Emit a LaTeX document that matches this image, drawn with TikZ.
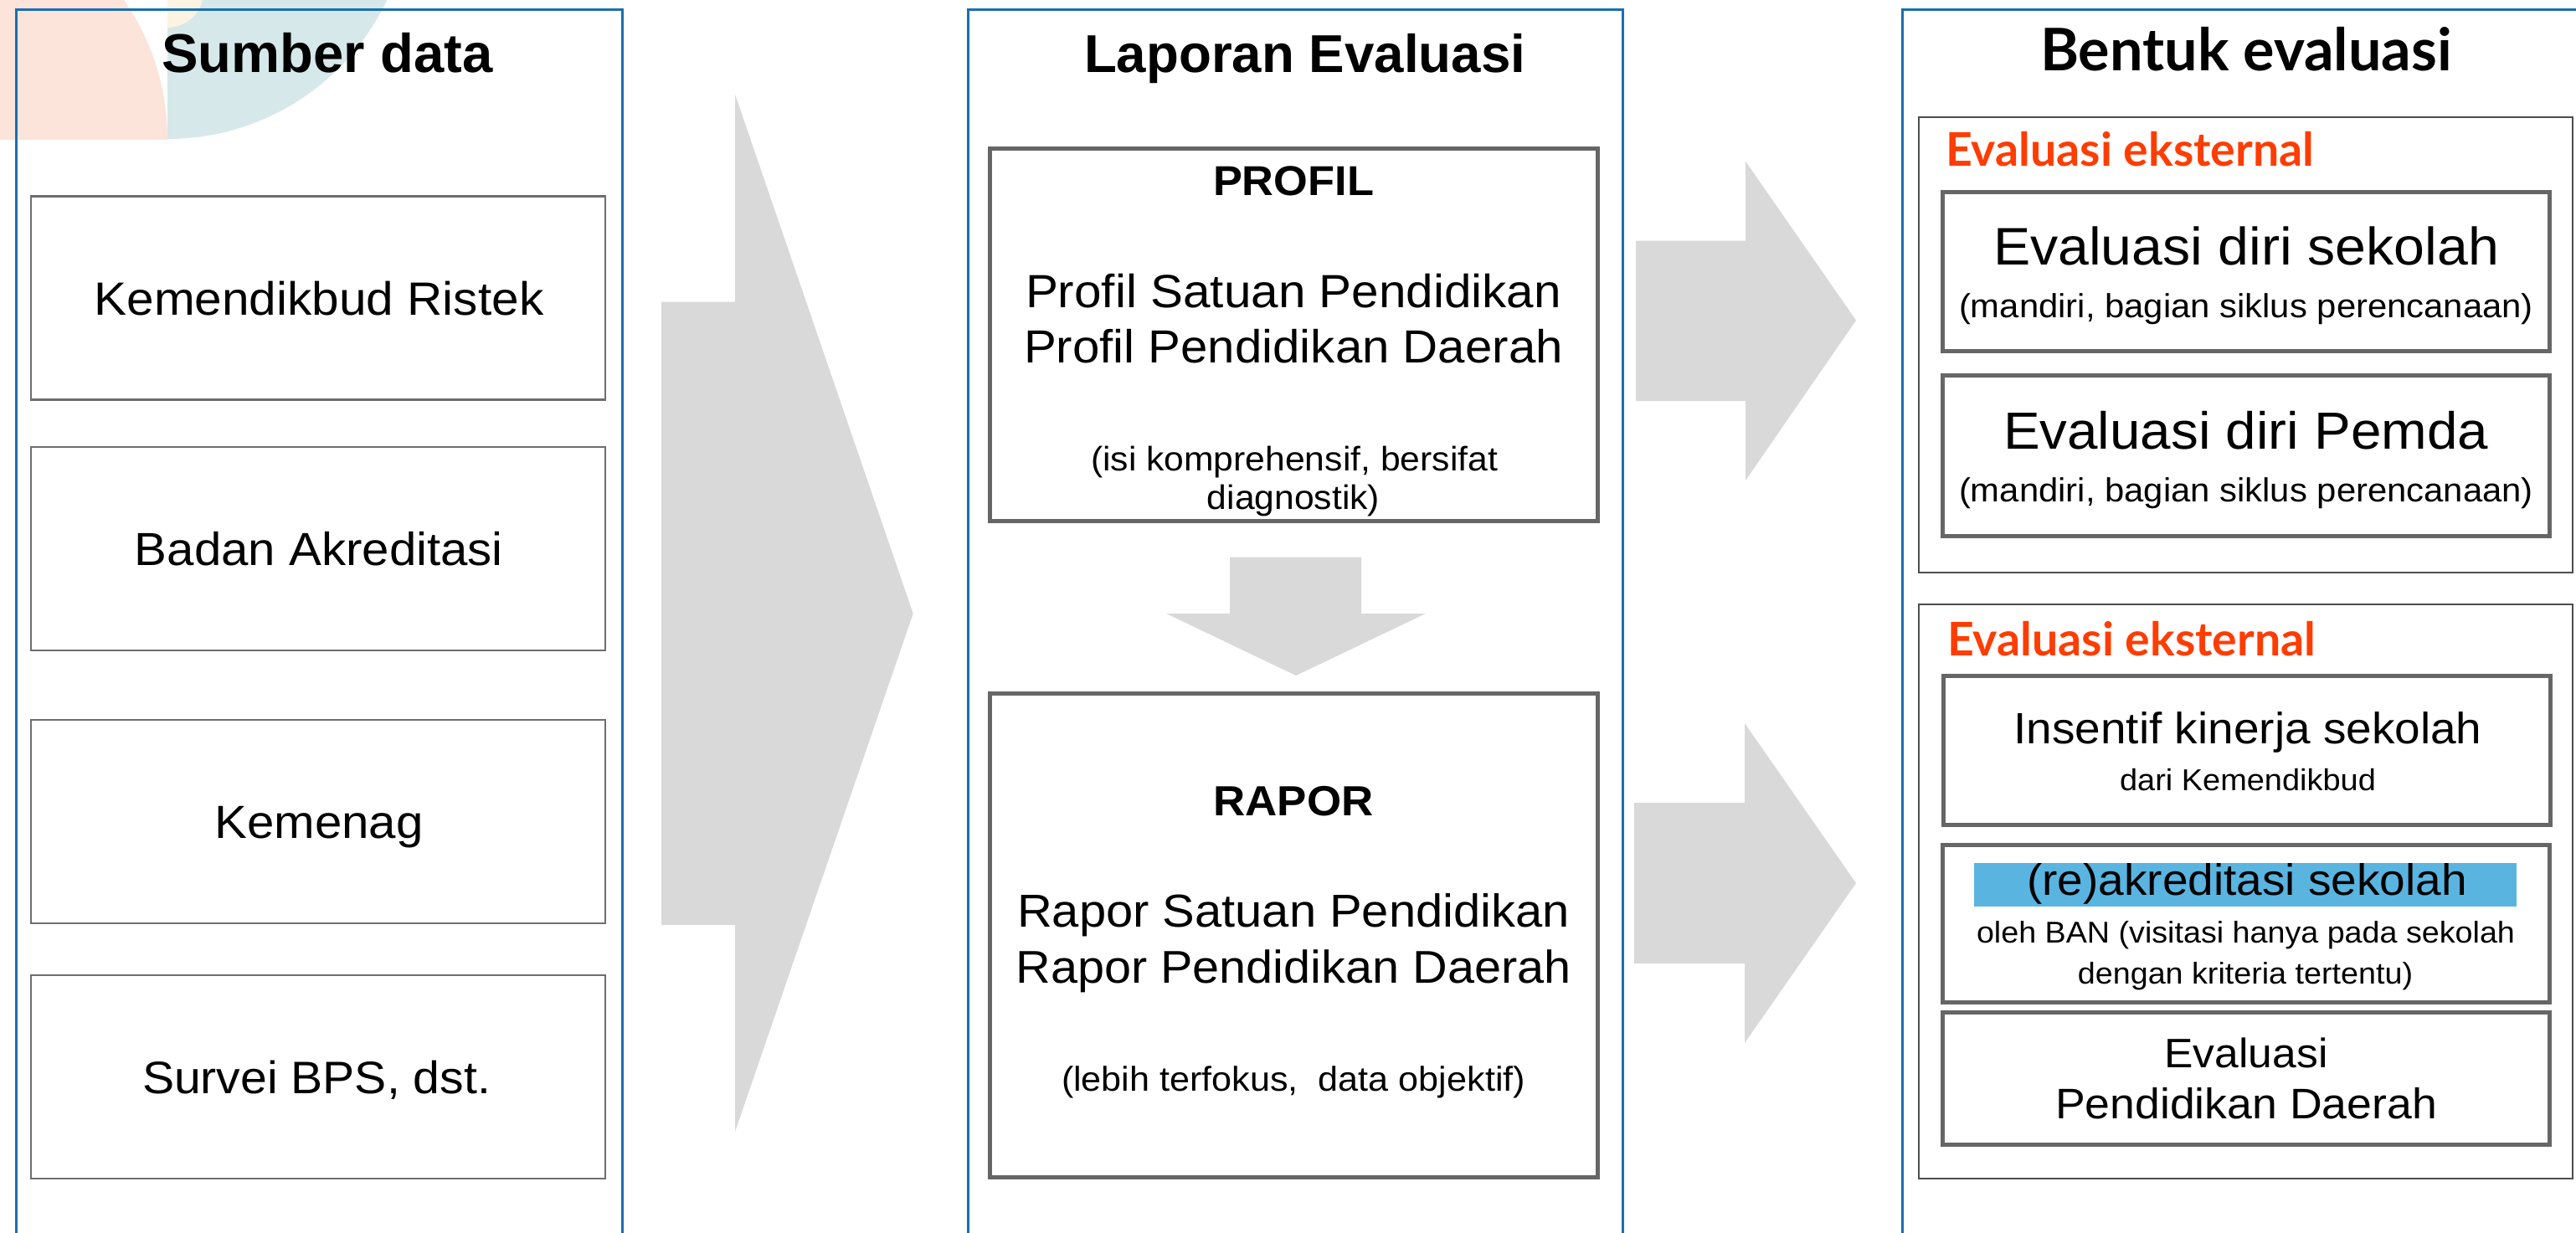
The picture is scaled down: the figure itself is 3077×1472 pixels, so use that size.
\documentclass[tikz,border=0pt]{standalone}
\usepackage{fontspec}
\usepackage{graphicx}
\setmainfont{Liberation Sans}[FakeStretch=1.05]
\newfontfamily\arialfont{Liberation Sans}
\newfontfamily\latofont{Lato}
\definecolor{frameblue}{HTML}{1B6FAE}
\definecolor{boxgray}{HTML}{6E6E6E}
\definecolor{thickgray}{HTML}{666666}
\definecolor{outergray}{HTML}{4D4D4D}
\definecolor{arrowgray}{HTML}{D9D9D9}
\definecolor{evalred}{HTML}{FF3D00}
\definecolor{hlblue}{HTML}{5AB4E0}
\definecolor{peachbg}{HTML}{FCE4DB}
\definecolor{tealbg}{HTML}{D6E8EA}
\definecolor{yellowbg}{HTML}{FCF3E2}
\newcommand\fsz[1]{\fontsize{#1}{#1}\selectfont}
\newcommand\tw[2]{\resizebox{#1pt}{!}{#2}}
\begin{document}
\begin{tikzpicture}[x=1pt,y=-1pt,
  txt/.style={inner sep=0pt, outer sep=0pt, anchor=base},
  srcbox/.style={draw=boxgray, line width=2.5pt, inner sep=0pt, minimum width=686pt, minimum height=243pt},
  repbox/.style={draw=thickgray, line width=5pt, inner sep=0pt, minimum width=726pt},
  grpbox/.style={draw=outergray, line width=2.5pt, inner sep=0pt, minimum width=781pt},
  formbox/.style={draw=thickgray, line width=5pt, inner sep=0pt, minimum width=725pt},
  frame/.style={draw=frameblue, line width=3pt},
  blockarrow/.style={fill=arrowgray},
  hl/.style={fill=hlblue, inner sep=0pt, minimum width=648pt, minimum height=51.6pt},
]
\useasboundingbox (0,0) rectangle (3077,1472);
\clip (0,0) rectangle (3077,1472);
\fill[white] (0,0) rectangle (3077,1472);
% background decoration
\begin{scope}
  \clip (0,0) rectangle (200,166);
  \fill[peachbg] (-91,166) circle[radius=291pt];
\end{scope}
\begin{scope}
  \clip (200,0) rectangle (700,166);
  \fill[tealbg] (200,-124) circle[radius=290pt];
  \fill[yellowbg] (200,-10) circle[radius=43pt];
\end{scope}
% frames
\draw[frame] (19.4,1500) -- (19.4,11.7) -- (743,11.7) -- (743,1500);
\draw[frame] (1156,1500) -- (1156,11.7) -- (1938.7,11.7) -- (1938.7,1500);
\draw[frame] (2272,1500) -- (2272,12) -- (3100,12);
% titles
\node[txt] (tsumber) at (391,87) {\arialfont\bfseries\fsz{65.6}\tw{395}{Sumber data}};
\node[txt] (tlaporan) at (1558.6,87) {\arialfont\bfseries\fsz{63.6}\tw{527}{Laporan Evaluasi}};
\node[txt] (tbentuk) at (2683,84) {\latofont\bfseries\fsz{64}\tw{492}{Bentuk evaluasi}};
% source boxes
\node[srcbox] (src1) at (380,356) {};
\node[srcbox] (src2) at (380,655.5) {};
\node[srcbox] (src3) at (380,981.5) {};
\node[srcbox] (src4) at (380,1286.5) {};
\node[txt] (s1) at (381,376) {\fsz{55.5}\tw{537}{Kemendikbud Ristek}};
\node[txt] (s2) at (381,675.5) {\fsz{55.5}\tw{440}{Badan Akreditasi}};
\node[txt] (s3) at (381,1001.5) {\fsz{55.5}Kemenag};
\node[txt] (s4) at (378,1306) {\fsz{55.5}\tw{416}{Survei BPS, dst.}};
% big arrow
\fill[blockarrow] (790,360.5) -- (878,360.5) -- (878,112.7) -- (1090.7,733) -- (878,1352) -- (878,1105) -- (790,1105) -- cycle;
% report boxes
\node[repbox, minimum height=445pt] (profil) at (1545,400) {};
\node[repbox, minimum height=578.5pt] (rapor) at (1545,1117.3) {};
\node[txt] (p0) at (1545,233.4) {\bfseries\fsz{50}\tw{192}{PROFIL}};
\node[txt] (p1) at (1545,367) {\fsz{55.5}\tw{640}{Profil Satuan Pendidikan}};
\node[txt] (p2) at (1545,433) {\fsz{55.5}\tw{644}{Profil Pendidikan Daerah}};
\node[txt] (p3) at (1546,562) {\fsz{40.6}\tw{486}{(isi komprehensif, bersifat}};
\node[txt] (p4) at (1545,608.6) {\fsz{40.6}diagnostik)};
\node[txt] (r0) at (1545,974) {\bfseries\fsz{50}\tw{191}{RAPOR}};
\node[txt] (r1) at (1545,1107.7) {\fsz{55.3}\tw{660}{Rapor Satuan Pendidikan}};
\node[txt] (r2) at (1545,1174) {\fsz{55.3}\tw{663}{Rapor Pendidikan Daerah}};
\node[txt] (r3) at (1545,1303) {\fsz{41}\tw{554}{(lebih terfokus,~~data objektif)}};
% down arrow
\fill[blockarrow] (1469,665.7) -- (1626,665.7) -- (1626,733) -- (1703,733) -- (1548,807) -- (1393,733) -- (1469,733) -- cycle;
% right arrows
\fill[blockarrow] (1954,287.7) -- (2085,287.7) -- (2085,192.7) -- (2217,382.7) -- (2085,574) -- (2085,479) -- (1954,479) -- cycle;
\fill[blockarrow] (1952,959) -- (2084,959) -- (2084,864) -- (2217,1055) -- (2084,1246) -- (2084,1151) -- (1952,1151) -- cycle;
% evaluation groups
\node[grpbox, minimum height=544.3pt] (grp1) at (2682.5,411.9) {};
\node[grpbox, minimum height=686pt] (grp2) at (2682.5,1065) {};
\node[txt, anchor=base west] (g1) at (2324,198) {\latofont\bfseries\color{evalred}\fsz{55}\tw{440}{Evaluasi eksternal}};
\node[txt, anchor=base west] (g2) at (2326,783.7) {\latofont\bfseries\color{evalred}\fsz{55}\tw{440}{Evaluasi eksternal}};
\node[formbox, minimum height=190.6pt] (fa) at (2682.5,324.3) {};
\node[formbox, minimum height=191.3pt] (fb) at (2682.5,544.4) {};
\node[formbox, minimum height=178.6pt] (fc) at (2683.5,896.3) {};
\node[formbox, minimum height=188pt] (fd) at (2682.5,1103) {};
\node[formbox, minimum height=157.4pt] (fe) at (2682.5,1288.3) {};
\node[txt] (a1) at (2683,316) {\fsz{63}\tw{604}{Evaluasi diri sekolah}};
\node[txt] (a2) at (2683,379.5) {\fsz{40}\tw{686}{(mandiri, bagian siklus perencanaan)}};
\node[txt] (b1) at (2682.5,536.5) {\fsz{63}\tw{579}{Evaluasi diri Pemda}};
\node[txt] (b2) at (2683,599.5) {\fsz{40}\tw{686}{(mandiri, bagian siklus perencanaan)}};
\node[txt] (c1) at (2685,888.6) {\fsz{52.3}\tw{559}{Insentif kinerja sekolah}};
\node[txt] (c2) at (2685,944.6) {\fsz{36.2}\tw{306}{dari Kemendikbud}};
\node[hl] (hlbar) at (2682,1056.8) {};
\node[txt] (d1) at (2684,1069.5) {\fsz{52.4}\tw{526}{(re)akreditasi sekolah}};
\node[txt] (d2) at (2682.5,1126) {\fsz{35.9}\tw{643}{oleh BAN (visitasi hanya pada sekolah}};
\node[txt] (d3) at (2682,1175) {\fsz{35.9}dengan kriteria tertentu)};
\node[txt] (e1) at (2683,1275) {\fsz{50.5}\tw{195}{Evaluasi}};
\node[txt] (e2) at (2683,1336.5) {\fsz{50.5}\tw{456}{Pendidikan Daerah}};
\end{tikzpicture}
\end{document}
